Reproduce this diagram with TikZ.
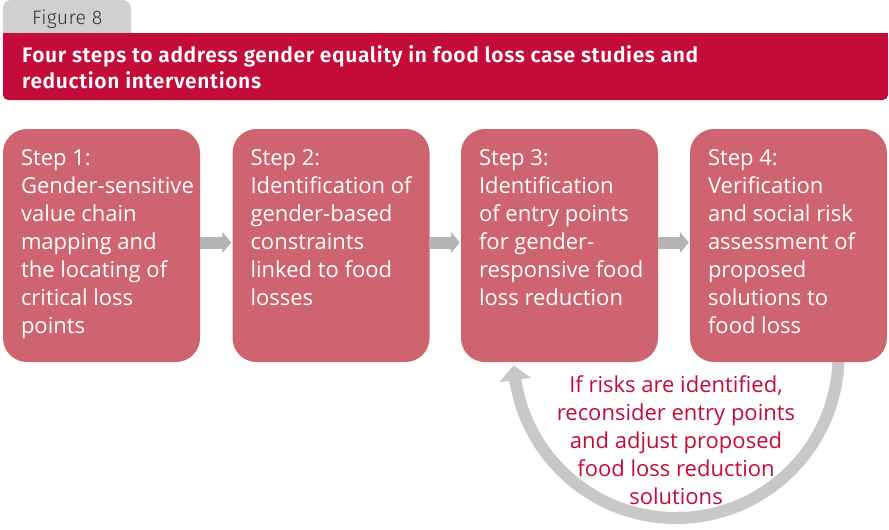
\documentclass[tikz,border=0pt]{standalone}
\usepackage{fontspec}
\setmainfont{Open Sans}
\newfontfamily\titlefont{Fira Sans}[UprightFont=* SemiBold, LetterSpace=3]
\newfontfamily\tabfont{Fira Sans}[UprightFont=* Light, LetterSpace=2]
\usetikzlibrary{arrows.meta,bending}
\definecolor{tabgray}{HTML}{D0D0D0}
\definecolor{titlered}{HTML}{C40C3A}
\definecolor{boxred}{HTML}{CD6470}
\definecolor{arrgray}{HTML}{B4B4B4}
\definecolor{loopgray}{HTML}{C8C8C8}
\tikzset{
  stepbox/.style={fill=boxred, rounded corners=24pt, minimum width=197pt, minimum height=233pt, inner sep=0pt},
  steptext/.style={anchor=north west, inner sep=0pt, align=left, text=white,
     font=\fontsize{22pt}{28pt}\selectfont},
  steparrow/.style={draw=arrgray, line width=12pt, -{Triangle[width=21pt,length=9pt]}, shorten >=1pt},
  looparrow/.style={draw=loopgray, line width=12pt, -{Triangle[width=31pt,length=15pt,bend]}},
  looptext/.style={align=center, text=titlered, inner sep=0pt, anchor=north,
     font=\fontsize{22pt}{28pt}\selectfont},
}
\begin{document}
\begin{tikzpicture}[x=1pt,y=-1pt]
\useasboundingbox (0,0) rectangle (889,530);
% tab
\fill[tabgray, rounded corners=8pt] (3,0) rectangle (131,45);
\node[anchor=base west, inner sep=0pt, font=\tabfont\fontsize{19.5pt}{22pt}\selectfont, text=black!80] (tab) at (32,24) {Figure 8};
% title bar
\fill[titlered, rounded corners=5pt] (3,33) rectangle (888,100);
\fill[titlered] (3,33) rectangle (888,60);
\node[anchor=north west, inner sep=0pt, align=left, text=white, font=\titlefont\fontsize{21pt}{26pt}\selectfont] (title) at (22,42)
  {\rule{0pt}{20pt}Four steps to address gender equality in food loss case studies and\\reduction interventions};
% loop arc (drawn below the boxes)
\coordinate (loopstart) at (838.5,355.5);
\draw[looparrow] (loopstart) arc[start angle=0, end angle=176.6, radius=162.5];
% boxes
\node[stepbox] (s1) at (101.5,245.5) {};
\node[stepbox] (s2) at (331,245.5) {};
\node[stepbox] (s3) at (559.5,245.5) {};
\node[stepbox] (s4) at (788.5,245.5) {};
\node[steptext] (t1) at ([xshift=18pt,yshift=-16pt]s1.north west) {\rule{0pt}{20pt}Step 1:\\Gender-sensitive\\value chain\\mapping and\\the locating of\\critical loss\\points};
\node[steptext] (t2) at ([xshift=18pt,yshift=-16pt]s2.north west) {\rule{0pt}{20pt}Step 2:\\Identification of\\gender-based\\constraints\\linked to food\\losses};
\node[steptext] (t3) at ([xshift=18pt,yshift=-16pt]s3.north west) {\rule{0pt}{20pt}Step 3:\\Identification\\of entry points\\for gender-\\responsive food\\loss reduction};
\node[steptext] (t4) at ([xshift=18pt,yshift=-16pt]s4.north west) {\rule{0pt}{20pt}Step 4:\\Verification\\and social risk\\assessment of\\proposed\\solutions to\\food loss};
% arrows
\draw[steparrow] ([yshift=3pt]s1.east) -- ([yshift=3pt]s2.west);
\draw[steparrow] ([yshift=3pt]s2.east) -- ([yshift=3pt]s3.west);
\draw[steparrow] ([yshift=3pt]s3.east) -- ([yshift=3pt]s4.west);
% loop note
\node[looptext] (loopnote) at (676,372) {\rule{0pt}{20pt}If risks are identified,\\reconsider entry points\\and adjust proposed\\food loss reduction\\solutions};
\end{tikzpicture}
\end{document}
